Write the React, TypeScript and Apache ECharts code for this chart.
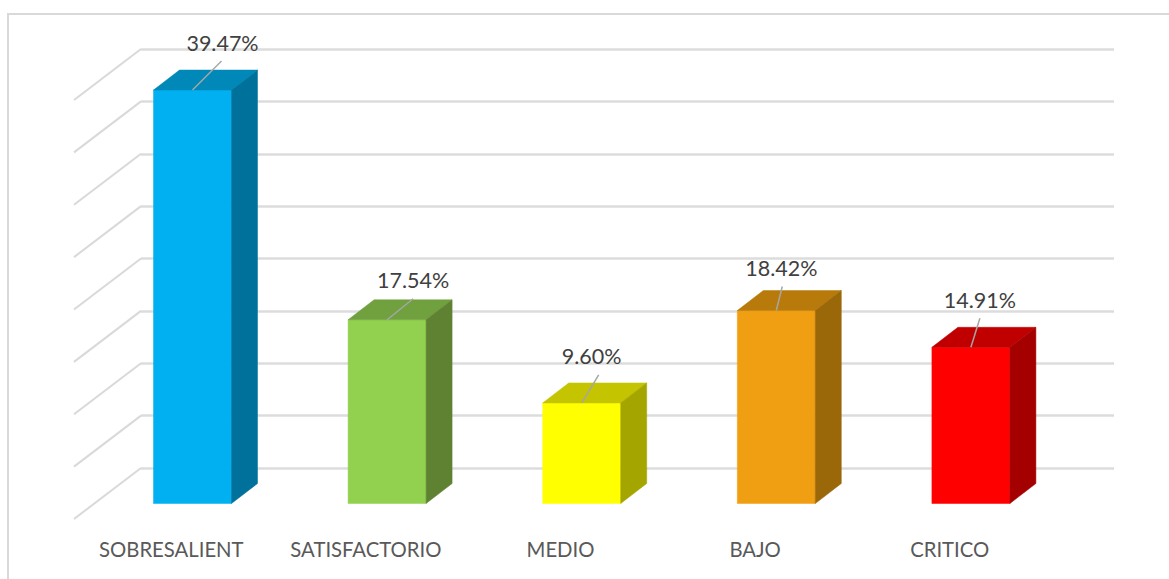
import React, { useEffect, useRef } from "react";
import * as echarts from "echarts";

const categories = ["SOBRESALIENT", "SATISFACTORIO", "MEDIO", "BAJO", "CRITICO"];
const percentages = [39.47, 17.54, 9.6, 18.42, 14.91];
const labelTexts = ["39.47%", "17.54%", "9.60%", "18.42%", "14.91%"];
const axisTicks = [0, 5, 10, 15, 20, 25, 30, 35, 40];

const frontColors = ["#00B0F0", "#92D050", "#FFFF00", "#F09E12", "#FF0000"];
const topColors = ["#0088B9", "#71A03E", "#C4C400", "#B87A0A", "#C00000"];
const sideColors = ["#00719B", "#5E8231", "#A5A500", "#9A6709", "#A50000"];

// Offsets from the top-centre of a bar's front face
const labelOffsets = [[30, -47], [26, -40], [10, -47], [5, -43], [9, -47]];
const leaderEnds = [[29, -29], [26, -21], [17, -28], [6, -24], [9, -29]];

const BAR_W = 78;
const DEPTH_X = 26;
const DEPTH_Y = -20;
const FRONT_X = -45.8;
const FRONT_Y = 35.5;
const FLOOR_X = -67;
const FLOOR_Y = 51;

export default function App() {
  const ref = useRef<HTMLDivElement>(null);
  useEffect(() => {
    const chart = echarts.init(ref.current!, undefined, { renderer: "svg" });
    const poly = (points: number[][], fill: string) => ({
      type: "polygon",
      shape: { points },
      style: { fill, stroke: fill, lineWidth: 0.5 },
    });
    chart.setOption({
      animation: false,
      backgroundColor: "#ffffff",
      graphic: [
        {
          type: "rect",
          z: -1,
          shape: { x: 8, y: 14, width: 1300, height: 700 },
          style: { fill: "none", stroke: "#d9d9d9", lineWidth: 2 },
        },
      ],
      grid: { left: 141, right: 55, top: 49, bottom: 111 },
      xAxis: {
        type: "category",
        data: categories,
        axisLine: { show: false },
        axisTick: { show: false },
        splitLine: { show: false },
        axisLabel: {
          interval: 0,
          margin: 71,
          padding: [0, -FLOOR_X * 2, 0, 0],
          color: "#595959",
          fontFamily: "Lato",
          fontSize: 20.3,
        },
      },
      yAxis: {
        type: "value",
        min: 0,
        max: 40,
        interval: 5,
        axisLine: { show: false },
        axisTick: { show: false },
        axisLabel: { show: false },
        splitLine: { show: true, lineStyle: { color: "#dcdcdc", width: 2.6 } },
      },
      series: [
        {
          type: "custom",
          silent: true,
          z: 2,
          data: axisTicks.map((t) => [0, t]),
          encode: { x: 0, y: 1 },
          renderItem: (params: any, api: any) => {
            const y = api.coord([0, api.value(1)])[1];
            const x = params.coordSys.x;
            return {
              type: "line",
              shape: { x1: x, y1: y, x2: x + FLOOR_X, y2: y + FLOOR_Y },
              style: { stroke: "#d9d9d9", lineWidth: 2 },
            };
          },
        },
        {
          type: "custom",
          silent: true,
          z: 3,
          data: percentages.map((v, i) => [i, v]),
          encode: { x: 0, y: 1 },
          renderItem: (_: any, api: any) => {
            const i = api.value(0);
            const top = api.coord([i, api.value(1)]);
            const base = api.coord([i, 0]);
            const cx = top[0] + FRONT_X;
            const l = cx - BAR_W / 2;
            const r = cx + BAR_W / 2;
            const t = top[1] + FRONT_Y;
            const b = base[1] + FRONT_Y;
            const [ldx, ldy] = labelOffsets[i];
            const [ex, ey] = leaderEnds[i];
            return {
              type: "group",
              children: [
                poly([[l, b], [r, b], [r, t], [l, t]], frontColors[i]),
                poly([[l, t], [r, t], [r + DEPTH_X, t + DEPTH_Y], [l + DEPTH_X, t + DEPTH_Y]], topColors[i]),
                poly([[r, b], [r + DEPTH_X, b + DEPTH_Y], [r + DEPTH_X, t + DEPTH_Y], [r, t]], sideColors[i]),
                {
                  type: "line",
                  shape: { x1: cx, y1: t, x2: cx + ex, y2: t + ey },
                  style: { stroke: "#a6a6a6", lineWidth: 1.5 },
                },
                {
                  type: "text",
                  style: {
                    x: cx + ldx,
                    y: t + ldy,
                    text: labelTexts[i],
                    fill: "#404040",
                    font: '21.5px Lato',
                    textAlign: "center",
                    textVerticalAlign: "middle",
                  },
                },
              ],
            };
          },
        },
      ],
    });
    return () => chart.dispose();
  }, []);
  return (
    <div
      ref={ref}
      style={{ position: "fixed", left: 0, top: 0, width: 1169, height: 579 }}
    />
  );
}
